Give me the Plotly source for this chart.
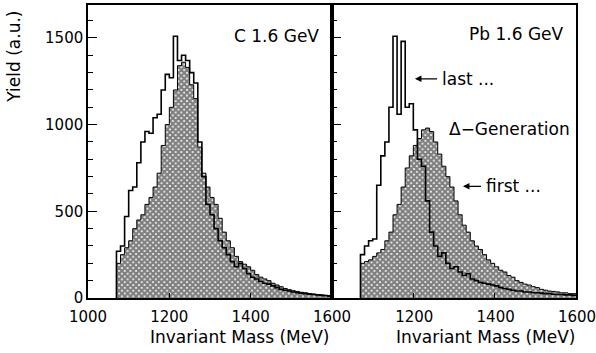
import plotly.graph_objects as go

# ---- data ----
bin_lo = 1070      # first bin edge (MeV)
bin_w = 10         # bin width (MeV)

c_first = [200, 250, 290, 330, 400, 450, 480, 540, 580, 640,
           720, 880, 1000, 1100, 1200, 1340, 1360, 1330, 1230, 1150,
           870, 720, 640, 580, 540, 460, 380, 330, 290, 240,
           210, 195, 180, 160, 135, 120, 110, 100, 85, 75,
           65, 55, 48, 42, 38, 33, 30, 26, 23, 20,
           18, 16, 14]
c_last = [270, 300, 470, 620, 640, 780, 900, 960, 950, 1040,
          1060, 1200, 1290, 1270, 1510, 1370, 1400, 1370, 1300, 1240,
          900, 700, 540, 480, 400, 330, 290, 250, 210, 180,
          200, 170, 140, 120, 110, 95, 85, 80, 70, 60,
          50, 45, 40, 35, 30, 28, 25, 22, 20, 18,
          15, 13, 10]
pb_first = [200, 210, 220, 240, 260, 280, 330, 380, 480, 540,
            640, 750, 820, 880, 920, 970, 980, 960, 900, 830,
            760, 700, 640, 560, 480, 420, 380, 330, 300, 280,
            250, 220, 200, 180, 160, 150, 130, 120, 100, 90,
            80, 75, 65, 60, 50, 45, 40, 38, 35, 30,
            30, 25, 25]
pb_last = [250, 300, 330, 340, 650, 820, 900, 1100, 1510, 1060,
           1480, 1100, 1120, 970, 800, 760, 560, 380, 300, 240,
           260, 200, 170, 180, 150, 130, 140, 110, 100, 90,
           85, 80, 75, 70, 60, 55, 50, 45, 40, 40,
           35, 35, 30, 30, 28, 25, 25, 22, 20, 20,
           18, 18, 15]

x_ticks_left = [1000, 1200, 1400, 1600]
x_ticks_right = [1200, 1400, 1600]
y_ticks = [0, 500, 1000, 1500]

panel_labels = ["C 1.6 GeV", "Pb 1.6 GeV"]


def steps(vals):
    edges = [bin_lo + i * bin_w for i in range(len(vals) + 1)]
    xs = [edges[0]] + edges
    ys = [0] + list(vals) + [vals[-1]]
    return xs, ys


FONT = "DejaVu Sans"
fig = go.Figure()

pattern = dict(shape="x", fgcolor="black", bgcolor="white", size=4, solidity=0.8)

for first, last, xa, ya in [(c_first, c_last, "x", "y"), (pb_first, pb_last, "x2", "y2")]:
    xs, ys = steps(first)
    fig.add_trace(go.Scatter(x=xs, y=ys, mode="lines", line=dict(shape="hv", color="black", width=1),
                             fill="tozeroy", fillcolor="rgba(0,0,0,0)", fillpattern=pattern,
                             xaxis=xa, yaxis=ya, showlegend=False, hoverinfo="skip"))
    xs, ys = steps(last)
    fig.add_trace(go.Scatter(x=xs, y=ys, mode="lines", line=dict(shape="hv", color="black", width=1.6),
                             xaxis=xa, yaxis=ya, showlegend=False, hoverinfo="skip"))

axis_common = dict(showline=True, linecolor="black", linewidth=1.5, mirror=True,
                   showgrid=False, zeroline=False, ticks="inside", tickcolor="black",
                   automargin=False,
                   tickfont=dict(family=FONT, size=15, color="black"))

fig.update_layout(
    width=596, height=353,
    margin=dict(l=88, r=20, t=5, b=55),
    paper_bgcolor="white", plot_bgcolor="white",
    xaxis=dict(domain=[0, 0.5], range=[1000, 1600], tickvals=x_ticks_left, ticklen=5,
               anchor="y", ticklabeloverflow="allow", ticklabelstandoff=4, **axis_common),
    xaxis2=dict(domain=[0.5, 1], range=[1000, 1600], tickvals=x_ticks_right, ticklen=5,
                anchor="y2", ticklabelshift=1, ticklabelstandoff=4, ticklabeloverflow="allow",
                **axis_common),
    yaxis=dict(range=[0, 1690], tickvals=y_ticks, ticklen=9, anchor="x",
               minor=dict(dtick=100, ticks="inside", ticklen=5, tickcolor="black"),
               **axis_common),
    yaxis2=dict(range=[0, 1690], tickvals=y_ticks, ticklen=9, anchor="x2", showticklabels=False,
                minor=dict(dtick=100, ticks="inside", ticklen=5, tickcolor="black"),
                **axis_common),
)

tfont = dict(family=FONT, size=17, color="black")
ann = [
    dict(text=panel_labels[0], x=1354, y=1511, xref="x", yref="y", xanchor="left", yanchor="middle",
         showarrow=False, font=tfont),
    dict(text=panel_labels[1], x=1332, y=1523, xref="x2", yref="y2", xanchor="left", yanchor="middle",
         showarrow=False, font=tfont),
    dict(text="last ...", x=1266, y=1264, xref="x2", yref="y2", xanchor="left", yanchor="middle",
         showarrow=False, font=tfont),
    dict(text="Δ−Generation", x=1283, y=977, xref="x2", yref="y2", xanchor="left", yanchor="middle",
         showarrow=False, font=tfont),
    dict(text="first ...", x=1374, y=644, xref="x2", yref="y2", xanchor="left", yanchor="middle",
         showarrow=False, font=tfont),
    dict(text="", x=1204, y=1264, xref="x2", yref="y2", ax=1262, ay=1264, axref="x2", ayref="y2",
         showarrow=True, arrowhead=2, arrowsize=1, arrowwidth=1.3, arrowcolor="black"),
    dict(text="", x=1322, y=644, xref="x2", yref="y2", ax=1370, ay=644, axref="x2", ayref="y2",
         showarrow=True, arrowhead=2, arrowsize=1, arrowwidth=1.3, arrowcolor="black"),
    dict(text="Yield (a.u.)", x=-0.152, y=0.823, xref="paper", yref="paper", textangle=-90,
         xanchor="center", yanchor="middle", showarrow=False, font=tfont),
    dict(text="Invariant Mass (MeV)", x=0.311, y=-0.133, xref="paper", yref="paper",
         xanchor="center", yanchor="middle", showarrow=False, font=tfont),
    dict(text="Invariant Mass (MeV)", x=0.814, y=-0.133, xref="paper", yref="paper",
         xanchor="center", yanchor="middle", showarrow=False, font=tfont),
]
fig.update_layout(annotations=ann)

fig.write_html("out.html")
